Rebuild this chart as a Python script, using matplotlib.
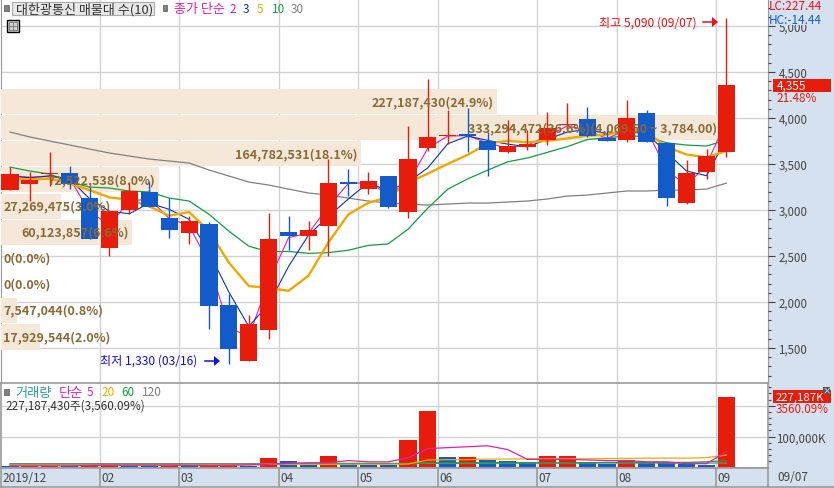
import matplotlib
matplotlib.use('Agg')
import numpy as np
import matplotlib.pyplot as plt
from matplotlib.patches import Rectangle
from matplotlib.ticker import FixedLocator, NullFormatter
from matplotlib.transforms import blended_transform_factory

plt.rcParams['font.family'] = ['Noto Sans CJK KR', 'DejaVu Sans']

# candles
opens = [3217, 3283, 3391, 3402, 3130, 2587, 3000, 3196, 2913, 2750, 2848, 1967, 1359, 1696, 2761, 2717, 2826, 3304, 3228, 3370,
         2978, 3674, 3804, 3826, 3750, 3630, 3685, 3761, 3924, 3989, 3783, 3761, 4054, 3728, 3076, 3413, 3630]
closes = [3391, 3326, 3402, 3283, 2685, 2989, 3207, 3033, 2783, 2880, 1956, 1489, 1761, 2685, 2717, 2783, 3293, 3283, 3315, 3033,
          3554, 3794, 3815, 3804, 3652, 3696, 3717, 3891, 3935, 3804, 3750, 4000, 3739, 3130, 3402, 3587, 4355]
highs = [3467, 3413, 3630, 3478, 3250, 2989, 3304, 3315, 3130, 2935, 2870, 2087, 1859, 2967, 2935, 2880, 3554, 3446, 3413, 3370,
         3913, 4424, 4087, 4109, 3848, 3978, 3870, 4065, 4163, 4120, 3902, 4196, 4087, 3728, 3544, 3663, 5090]
lows = [3217, 3098, 3261, 3228, 2685, 2500, 2957, 3033, 2696, 2630, 1706, 1330, 1359, 1598, 2565, 2565, 2500, 3152, 3174, 3022,
        2913, 3641, 3717, 3630, 3370, 3620, 3652, 3707, 3880, 3794, 3750, 3739, 3739, 3043, 3065, 3337, 3576]

ma2 = [3370, 3358, 3364, 3342, 2984, 2837, 3098, 3120, 2908, 2831, 2418, 1722, 1625, 2223, 2701, 2750, 3038, 3288, 3299, 3174,
       3294, 3674, 3804, 3810, 3728, 3674, 3706, 3804, 3913, 3870, 3777, 3875, 3870, 3435, 3266, 3494, 3971]
ma3 = [3370, 3350, 3373, 3337, 3123, 2986, 2960, 3076, 3008, 2899, 2540, 2108, 1735, 1978, 2388, 2728, 2931, 3120, 3297, 3210,
       3301, 3460, 3721, 3804, 3757, 3717, 3688, 3768, 3848, 3877, 3830, 3851, 3830, 3623, 3424, 3373, 3781]
ma5 = [3340, 3335, 3340, 3290, 3217, 3137, 3113, 3039, 2939, 2978, 2772, 2428, 2174, 2154, 2122, 2287, 2648, 2952, 3078, 3141,
       3296, 3396, 3502, 3600, 3724, 3752, 3737, 3752, 3778, 3809, 3819, 3876, 3846, 3685, 3604, 3572, 3643]
ma10 = [3467, 3424, 3391, 3304, 3250, 3239, 3207, 3196, 3130, 3098, 2954, 2771, 2607, 2547, 2550, 2529, 2538, 2563, 2616, 2632,
        2791, 3022, 3227, 3339, 3433, 3524, 3566, 3627, 3689, 3766, 3786, 3806, 3799, 3731, 3706, 3696, 3759]
ma30 = [3848, 3794, 3750, 3707, 3663, 3620, 3587, 3554, 3533, 3511, 3435, 3370, 3304, 3272, 3228, 3185, 3163, 3130, 3098, 3076,
        3065, 3054, 3065, 3076, 3076, 3087, 3098, 3120, 3152, 3163, 3185, 3207, 3207, 3217, 3217, 3228, 3293]

# volume in millions of shares
volume = [4, 5, 6, 3, 11, 11, 4, 3, 4, 3, 11, 12, 3, 29, 19.5, 9, 36, 10, 9, 8.5,
          88, 182, 32.6, 33, 23, 22, 16, 36, 36.5, 16, 10, 23, 16, 15, 12, 6.2, 227.187]
vol_up = [0, 1, 1, 0, 1, 1, 0, 0, 1, 0, 1, 1, 0, 1, 0, 0, 1, 0, 0, 0,
          1, 1, 0, 1, 0, 0, 0, 1, 1, 0, 0, 1, 0, 0, 0, 0, 1]
vol_ma5 = [5, 5, 5, 5, 6, 7, 7, 7, 7, 6, 6, 7, 8, 10, 13, 15, 15, 22, 18, 18,
           31, 61, 64, 67, 70, 58, 26, 26, 26, 24, 22, 22, 18, 18, 12, 12, 51]
vol_ma20 = [7.6, 7.6, 7.6, 7.6, 7.6, 7.6, 7.6, 7.6, 7.6, 7.6, 8, 8, 8, 10, 10, 10, 10, 10, 10, 10,
            11, 24, 25, 25, 27, 27, 28, 28, 28, 28, 29, 29, 30, 30, 30, 31.5, 40]
vol_ma60 = [10, 10, 10, 10, 10, 10, 10, 10, 10, 10, 10, 10, 10, 10, 13, 13, 13, 13, 13, 13,
            13, 15, 15, 15, 15, 15, 15, 15, 15, 15, 16, 16, 16, 16, 16, 18, 22]
vol_ma120 = [12, 12, 12, 12, 12, 12, 12, 12, 12, 12, 12, 12, 12, 12, 12, 12, 12, 12, 12, 12,
             12, 13, 13, 13, 13, 14, 14, 14, 14, 14, 14, 14, 14, 14, 14, 14, 14]

# volume profile
vp_prices = [4179, 3897, 3614, 3332, 3043, 2761, 2478, 2196, 1913, 1620]
vp_volumes = [227.187, 333.294, 164.783, 72.523, 27.269, 60.124, 0, 0, 7.547, 17.930]
vp_labels = ['227,187,430(24.9%)', '333,294,472(36.6%)(4,069.50 ~ 3,784.00)', '164,782,531(18.1%)', '72,522,538(8.0%)',
             '27,269,475(3.0%)', '60,123,857(6.6%)', '0(0.0%)', '0(0.0%)', '7,547,044(0.8%)', '17,929,544(2.0%)']
vp_right_aligned = [True, True, True, True, False, True, False, False, False, False]

month_pos = [4.5, 8.5, 13.5, 17.5, 21.5, 26.5, 30.5, 35.5]
month_labels = ['02', '03', '04', '05', '06', '07', '08', '09']
price_ticks = [1500, 2000, 2500, 3000, 3500, 4000, 4500, 5000]
price_labels = ['1,500', '2,000', '2,500', '3,000', '3,500', '4,000', '4,500', '5,000']

W, H = 834, 489
RED = '#E81C0A'
BLUE = '#135BC8'
ORANGE = '#F0A800'
MAGENTA = '#E020B0'
NAVY = '#1030B0'
GREEN = '#10A040'
GRAY = '#808080'
GRID = '#D2D2D2'
FRAME = '#999999'
PANEL = '#D6E1EF'
BEIGE = '#F5E8D8'
BROWN = '#8A6A35'
DARK = '#444444'
VP_SCALE = 2.185  # pixels per million shares

fig = plt.figure(figsize=(W / 100, H / 100), dpi=100, facecolor='white')


def px_axes(l, t, r, b):
    return fig.add_axes([l / W, 1 - b / H, (r - l) / W, (b - t) / H])


def tx(x, y, s, color=DARK, size=8.5, ha='left', **kw):
    return fig.text(x / W, 1 - y / H, s, color=color, fontsize=size, ha=ha, va='center', **kw)


def box(x0, y0, x1, y1, **kw):
    r = Rectangle((x0 / W, 1 - y1 / H), (x1 - x0) / W, (y1 - y0) / H, transform=fig.transFigure, **kw)
    fig.add_artist(r)
    return r


def arrow(x0, x1, y, color):
    fig.add_artist(plt.Line2D([x0 / W, (x1 - 5) / W], [1 - y / H, 1 - y / H], color=color, lw=1.1,
                              transform=fig.transFigure))
    fig.add_artist(plt.Polygon([[(x1 - 6) / W, 1 - (y - 5) / H], [x1 / W, 1 - y / H], [(x1 - 6) / W, 1 - (y + 5) / H]],
                               color=color, lw=0, transform=fig.transFigure))


# right hand panel
box(768, 0, 834, 489, facecolor=PANEL, edgecolor='none', zorder=-1)

x = np.arange(len(closes))
xlim = (-0.452, 38.09)
ylim = (1120, 5294)

# three layers so the profile bars cover the grid but stay under the candles
ax_base = px_axes(1, 0, 768, 384)
ax_base.set_xlim(xlim)
ax_base.set_ylim(ylim)
ax_base.vlines(month_pos, ylim[0], ylim[1], color=GRID, lw=1)
ax_base.hlines(price_ticks, xlim[0], xlim[1], color=GRID, lw=1)
ax_base.set_xticks([])
ax_base.set_yticks([])
for s in ['top', 'bottom']:
    ax_base.spines[s].set_visible(False)
for s in ['left', 'right']:
    ax_base.spines[s].set_color(FRAME)

ax_vp = px_axes(1, 0, 768, 384)
ax_vp.patch.set_visible(False)
ax_vp.axis('off')
ax_vp.set_xlim(0, 767 / VP_SCALE)
ax_vp.set_ylim(ylim)
ax_vp.barh(vp_prices, vp_volumes, height=272, color=BEIGE, lw=0)

ax = px_axes(1, 0, 768, 384)
ax.patch.set_visible(False)
ax.set_xlim(xlim)
ax.set_ylim(ylim)
for s in ax.spines.values():
    s.set_visible(False)

ax.plot(x, ma30, color=GRAY, lw=0.9, zorder=2)
ax.plot(x, ma10, color=GREEN, lw=0.9, zorder=2)
ax.plot(x, ma2, color=MAGENTA, lw=0.8, zorder=2)
ax.plot(x, ma3, color=NAVY, lw=0.8, zorder=2)
ax.plot(x, ma5, color=ORANGE, lw=1.7, zorder=2)

colors = [RED if c >= o else BLUE for o, c in zip(opens, closes)]
ax.vlines(x, lows, highs, color=colors, lw=1, zorder=3)
bottoms = np.minimum(opens, closes)
heights = np.maximum(np.abs(np.array(closes) - np.array(opens)), 12)
ax.bar(x, heights, bottom=bottoms, width=0.855, color=colors, lw=0, zorder=4)

trans = blended_transform_factory(ax_vp.transData, ax.transData)
for p, v, s, right in zip(vp_prices, vp_volumes, vp_labels, vp_right_aligned):
    if s.startswith('333'):
        ax.text(467 / VP_SCALE, p, s, transform=trans, color=BROWN, fontsize=9.05, fontweight='bold', ha='left', va='center', zorder=6)
    elif right:
        ax.text(v - 1.8, p, s, transform=trans, color=BROWN, fontsize=9.05, fontweight='bold', ha='right', va='center', zorder=6)
    else:
        ax.text(1, p, s, transform=trans, color=BROWN, fontsize=9.05, fontweight='bold', ha='left', va='center', zorder=6)

ax.yaxis.tick_right()
ax.yaxis.set_major_locator(FixedLocator(price_ticks))
ax.set_yticklabels(price_labels, color=DARK, fontsize=8.3)
ax.yaxis.set_minor_locator(FixedLocator(np.arange(1200, 5300, 100)))
ax.tick_params(axis='y', which='major', length=5, width=0.8, color=DARK, pad=2.5)
ax.tick_params(axis='y', which='minor', length=2.5, width=0.8, color=DARK)
ax.set_xticks([])

# volume pane
ax_vol = px_axes(1, 384, 768, 469)
ax_vol.set_xlim(xlim)
ax_vol.set_ylim(-2, 273.6)
ax_vol.vlines(month_pos, -2, 273.6, color=GRID, lw=1, zorder=1)
ax_vol.hlines([100, 200], xlim[0], xlim[1], color=GRID, lw=1, zorder=1)
ax_vol.bar(x, volume, width=0.855, color=[RED if u else BLUE for u in vol_up], lw=0, zorder=2)
ax_vol.plot(x, vol_ma120, color=GRAY, lw=0.9, zorder=3)
ax_vol.plot(x, vol_ma60, color=GREEN, lw=0.9, zorder=3)
ax_vol.plot(x, vol_ma20, color=ORANGE, lw=0.9, zorder=3)
ax_vol.plot(x, vol_ma5, color=MAGENTA, lw=0.9, zorder=3)
ax_vol.set_xticks([])
ax_vol.yaxis.tick_right()
ax_vol.yaxis.set_major_locator(FixedLocator([100, 200]))
ax_vol.set_yticklabels(['100,000K', ''], color=DARK, fontsize=8.3)
ax_vol.yaxis.set_minor_locator(FixedLocator(np.arange(20, 270, 20)))
ax_vol.yaxis.set_minor_formatter(NullFormatter())
ax_vol.tick_params(axis='y', which='major', length=5, width=0.8, color=DARK, pad=1)
ax_vol.tick_params(axis='y', which='minor', length=2.5, width=0.8, color=DARK)
for s in ax_vol.spines.values():
    s.set_color(FRAME)
    s.set_linewidth(1.2)

# date strip
ax_dates = px_axes(1, 469, 768, 488)
ax_dates.set_facecolor(PANEL)
ax_dates.set_xlim(xlim)
ax_dates.set_ylim(0, 1)
ax_dates.vlines(month_pos, 0, 1, color=FRAME, lw=1.2)
ax_dates.set_xticks([])
ax_dates.set_yticks([])
for s in ax_dates.spines.values():
    s.set_color(FRAME)
    s.set_linewidth(1.2)
ax_dates.annotate('2019/12', (xlim[0], 0.5), xytext=(1, 0), textcoords='offset points', color=DARK, fontsize=8.5, va='center')
for p, s in zip(month_pos, month_labels):
    ax_dates.annotate(s, (p, 0.5), xytext=(1, 0), textcoords='offset points', color=DARK, fontsize=8.5, va='center')
fig.add_artist(plt.Line2D([768 / W, 834 / W], [1 - 488 / H, 1 - 488 / H], color=FRAME, lw=1.2, transform=fig.transFigure))
tx(777, 478, '09/07')

# top legend
box(4, 6, 9, 11.5, facecolor=GRAY, edgecolor='#666666', lw=0.6)
box(11.5, 3, 154, 16, facecolor='#E8E8E8', edgecolor='#AAAAAA', lw=0.8)
tx(16, 9.5, '대한광통신 매물대 수(10)', color='#333333', size=9.4)
box(162.5, 6, 167, 11.5, facecolor=GRAY, edgecolor='#666666', lw=0.6)
tx(174, 9.5, '종가 단순', color=MAGENTA, size=9.4)
tx(229, 9.5, '2', color=MAGENTA)
tx(243, 9.5, '3', color=NAVY)
tx(257, 9.5, '5', color=ORANGE)
tx(272, 9.5, '10', color=GREEN)
tx(291, 9.5, '30', color=GRAY)

# table icon
box(6.5, 20.5, 19, 33, facecolor='#CFCFCF', edgecolor='black', lw=1)
box(9, 23, 17, 31, facecolor='none', edgecolor='#777777', lw=0.6)
fig.add_artist(plt.Line2D([13 / W, 13 / W], [1 - 23 / H, 1 - 31 / H], color='#777777', lw=0.6, transform=fig.transFigure))
fig.add_artist(plt.Line2D([9 / W, 17 / W], [1 - 27 / H, 1 - 27 / H], color='#777777', lw=0.6, transform=fig.transFigure))

# high and low marks
tx(599, 23, '최고 5,090 (09/07)', color='#F01010', size=8.7)
arrow(703, 718, 23, '#F01010')
tx(100, 361, '최저 1,330 (03/16)', color='#1010E0', size=8.7)
arrow(205, 220, 362, '#1010E0')

# right panel tags
box(770, 0, 834, 26, facecolor=PANEL, edgecolor='none', zorder=2)
tx(769, 7, 'LC:227.44', color='#F01010', zorder=3)
tx(769, 20, 'HC:-14.44', color=BLUE, zorder=3)
box(773, 80, 831, 93, facecolor=RED, edgecolor='none', zorder=2)
tx(777, 86.5, '4,355', color='white', zorder=3)
tx(776, 98, '21.48%', color=RED, zorder=3)
box(773, 391, 831, 404, facecolor=RED, edgecolor='none', zorder=2)
tx(776, 397.5, '227,187K', color='white', size=8.2, zorder=3)
tx(776, 410, '3560.09%', color=RED, size=8.4, zorder=3)
box(823, 388, 830, 395, facecolor='#555555', edgecolor='none', zorder=3)
tx(826.5, 391, '×', color='white', size=6, ha='center', zorder=4)

# volume legend
box(4, 390, 9, 396, facecolor=GRAY, edgecolor='#666666', lw=0.6)
tx(15, 393, '거래량', color='#2A9D9D', size=9.5)
tx(59, 393, '단순', color=MAGENTA, size=9.5)
tx(87, 393, '5', color=MAGENTA)
tx(101, 393, '20', color=ORANGE)
tx(121, 393, '60', color=GREEN)
tx(142, 393, '120', color=GRAY)
tx(5, 406, '227,187,430주(3,560.09%)', color='#333333', size=8.4)

fig.savefig('out.png', dpi=100)
